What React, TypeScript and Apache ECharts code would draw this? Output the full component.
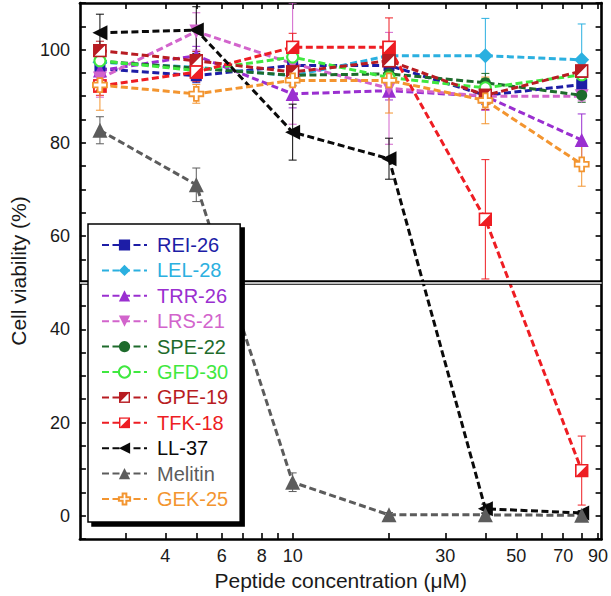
import React, { useEffect, useRef } from 'react';
import * as echarts from 'echarts';

// Peptide concentrations (µM)
const concentrations = [2.5, 5, 10, 20, 40, 80];

// Mean cell viability (%) per peptide
const rei26 = [95.9, 94.4, 96.6, 96.6, 90.2, 92.5];
const lel28 = [97.3, 96.2, 94.4, 98.7, 98.7, 97.8];
const trr26 = [95.5, 98.7, 90.5, 91.2, 90.0, 80.6];
const lrs21 = [93.8, 103.9, 97.0, 91.7, 90.0, 90.0];
const spe22 = [97.5, 96.0, 94.5, 94.8, 92.9, 90.2];
const gfd30 = [97.6, 95.5, 98.4, 94.0, 91.8, 94.6];
const gpe19 = [99.8, 97.6, 95.2, 97.6, 90.2, 95.4];
const tfk18 = [92.2, 95.2, 100.5, 100.5, 63.6, 9.7];
const ll37 = [103.6, 104.2, 82.3, 76.6, 1.5, 0.6];
const melitin = [82.7, 71.0, 7.2, 0.2, 0.2, 0.1];
const gek25 = [92.4, 90.5, 93.4, 93.4, 89.1, 75.4];

// Standard deviations
const rei26Err = [1.5, 1.5, 2, 1.5, 2, 1.5];
const lel28Err = [2, 2, 2, 2, 8, 7.7];
const trr26Err = [3, 2, 3, 2, 3, 5.6];
const lrs21Err = [4, 4, 13, 12, 3, 1];
const spe22Err = [1, 1, 1.5, 1.5, 2, 1.5];
const gfd30Err = [2, 2, 3, 2, 2, 1.5];
const gpe19Err = [2, 2, 3, 3, 3, 1.5];
const tfk18Err = [2, 2, 3, 6.3, 12.8, 7.4];
const ll37Err = [4, 5, 6, 4.4, 1, 0.5];
const melitinErr = [2.9, 3.6, 2, 0.5, 0.5, 0.5];
const gek25Err = [5.4, 2, 4, 7, 5, 4.7];

// Axis ticks
const xTickValues = [3, 4, 5, 6, 7, 8, 9, 10, 20, 30, 40, 50, 60, 70, 80, 90];
const xLabelValues = [4, 6, 8, 10, 30, 50, 70, 90];
const yLabelValues = [0, 20, 40, 60, 80, 100];
const thresholdValue = 50;

const FONT = 'Liberation Sans, Arial, sans-serif';

const halfSquare = (color: string, filledUpperLeft: boolean) => {
  const pts = filledUpperLeft ? '1,1 13,1 1,13' : '13,1 13,13 1,13';
  const svg = `<svg xmlns="http://www.w3.org/2000/svg" width="14" height="14" viewBox="0 0 14 14"><rect x="1" y="1" width="12" height="12" fill="#ffffff" stroke="${color}" stroke-width="1.8"/><polygon points="${pts}" fill="${color}"/></svg>`;
  return 'image://data:image/svg+xml;charset=utf-8,' + encodeURIComponent(svg);
};

const crossPath = 'path://M4,0L8,0L8,4L12,4L12,8L8,8L8,12L4,12L4,8L0,8L0,4L4,4Z';

type Def = {
  name: string;
  values: number[];
  errors: number[];
  color: string;
  symbol: string;
  size: number;
  rotate?: number;
  fill?: string;
};

const defs: Def[] = [
  { name: 'REI-26', values: rei26, errors: rei26Err, color: '#1d1da6', symbol: 'rect', size: 11 },
  { name: 'LEL-28', values: lel28, errors: lel28Err, color: '#2bb0e0', symbol: 'diamond', size: 15 },
  { name: 'TRR-26', values: trr26, errors: trr26Err, color: '#9a2fd0', symbol: 'triangle', size: 14 },
  { name: 'LRS-21', values: lrs21, errors: lrs21Err, color: '#d264cc', symbol: 'triangle', size: 14, rotate: 180 },
  { name: 'SPE-22', values: spe22, errors: spe22Err, color: '#1e6b2c', symbol: 'circle', size: 11 },
  { name: 'GFD-30', values: gfd30, errors: gfd30Err, color: '#3fe83f', symbol: 'emptyCircle', size: 11 },
  { name: 'GPE-19', values: gpe19, errors: gpe19Err, color: '#b81c22', symbol: halfSquare('#b81c22', true), size: 14 },
  { name: 'TFK-18', values: tfk18, errors: tfk18Err, color: '#ee1d23', symbol: halfSquare('#ee1d23', false), size: 14 },
  { name: 'LL-37', values: ll37, errors: ll37Err, color: '#0a0a0a', symbol: 'triangle', size: 15, rotate: 90 },
  { name: 'Melitin', values: melitin, errors: melitinErr, color: '#5c5c5c', symbol: 'triangle', size: 15 },
  { name: 'GEK-25', values: gek25, errors: gek25Err, color: '#f39530', symbol: crossPath, size: 14, fill: '#ffffff' },
];

const X_MIN = 2.165;
const X_MAX = 92.3;

export default function App() {
  const ref = useRef<HTMLDivElement>(null);

  useEffect(() => {
    if (!ref.current) return;
    const chart = echarts.init(ref.current, null, { renderer: 'svg' });

    const axisLine = { show: true, onZero: false, lineStyle: { color: '#000', width: 2.6 } };
    const tickStyle = { color: '#000', width: 1.6 };

    const xBase = {
      type: 'log' as const,
      min: X_MIN,
      max: X_MAX,
      logBase: 10,
      splitLine: { show: false },
      axisLine,
      axisTick: { show: true, inside: true, length: 6, customValues: xTickValues, lineStyle: tickStyle },
      minorTick: { show: false },
    };
    const yBase = {
      type: 'value' as const,
      min: -5,
      max: 110,
      interval: 5,
      splitLine: { show: false },
      axisLine,
      axisTick: { show: true, inside: true, length: 6, lineStyle: tickStyle },
    };

    const errorSeries = defs.map((d) => ({
      type: 'custom',
      name: d.name + ' sd',
      xAxisIndex: 0,
      yAxisIndex: 0,
      z: 1,
      silent: true,
      clip: true,
      encode: { x: 0, y: 1 },
      data: concentrations.map((c, i) => [c, d.values[i], d.errors[i]]),
      renderItem: (_params: any, api: any) => {
        const x = api.value(0);
        const y = api.value(1);
        const e = api.value(2);
        const top = api.coord([x, y + e]);
        const bot = api.coord([x, y - e]);
        const w = 4;
        const style = { stroke: d.color, lineWidth: 1 };
        return {
          type: 'group',
          children: [
            { type: 'line', shape: { x1: top[0], y1: top[1], x2: bot[0], y2: bot[1] }, style },
            { type: 'line', shape: { x1: top[0] - w, y1: top[1], x2: top[0] + w, y2: top[1] }, style },
            { type: 'line', shape: { x1: bot[0] - w, y1: bot[1], x2: bot[0] + w, y2: bot[1] }, style },
          ],
        };
      },
    }));

    const lineSeries = defs.map((d) => ({
      type: 'line',
      name: d.name,
      xAxisIndex: 0,
      yAxisIndex: 0,
      z: 3,
      data: concentrations.map((c, i) => [c, d.values[i]]),
      symbol: d.symbol,
      symbolSize: d.size,
      symbolRotate: d.rotate ?? 0,
      showSymbol: true,
      lineStyle: { color: d.color, width: 3, type: [7, 3.5] },
      itemStyle: {
        color: d.fill ?? d.color,
        borderColor: d.color,
        borderWidth: d.symbol === 'emptyCircle' || d.fill ? 1.8 : 0,
      },
      emphasis: { disabled: true },
    }));

    const thresholdSeries = {
      type: 'line',
      name: 'threshold',
      xAxisIndex: 0,
      yAxisIndex: 0,
      z: 0,
      data: [],
      silent: true,
      markLine: {
        silent: true,
        symbol: ['none', 'none'],
        label: { show: false },
        animation: false,
        data: [
          { yAxis: thresholdValue, lineStyle: { color: '#000', width: 4.5, type: 'solid' } },
          { yAxis: thresholdValue, lineStyle: { color: '#fff', width: 1.6, type: 'solid' } },
        ],
      },
    };

    chart.setOption({
      animation: false,
      backgroundColor: '#ffffff',
      textStyle: { fontFamily: FONT },
      grid: { left: 65, right: 9, top: 3, bottom: 56, containLabel: false },
      xAxis: [
        {
          ...xBase,
          position: 'bottom',
          name: 'Peptide concentration (\u03bcM)',
          nameLocation: 'middle',
          nameGap: 26,
          nameTextStyle: { fontSize: 21, color: '#1a1a1a', fontFamily: FONT },
          axisLabel: {
            show: true,
            customValues: xLabelValues,
            margin: 8,
            fontSize: 18,
            color: '#1a1a1a',
            fontFamily: FONT,
            formatter: (v: number) => String(Math.round(v)),
          },
        },
        {
          ...xBase,
          position: 'top',
          axisLabel: { show: false },
        },
      ],
      yAxis: [
        {
          ...yBase,
          position: 'left',
          name: 'Cell viability (%)',
          nameLocation: 'middle',
          nameGap: 38,
          nameTextStyle: { fontSize: 21, color: '#1a1a1a', fontFamily: FONT },
          axisLabel: {
            show: true,
            margin: 10,
            fontSize: 18,
            color: '#1a1a1a',
            fontFamily: FONT,
            formatter: (v: number) => (yLabelValues.includes(v) ? String(v) : ''),
          },
        },
        {
          ...yBase,
          position: 'right',
          axisLabel: { show: false },
        },
      ],
      legend: {
        orient: 'vertical',
        left: 88,
        top: 224,
        padding: [11, 12, 13, 13],
        itemGap: 5.4,
        itemWidth: 45,
        itemHeight: 14,
        backgroundColor: '#ffffff',
        borderColor: '#000000',
        borderWidth: 1.5,
        shadowColor: '#000000',
        shadowBlur: 0,
        shadowOffsetX: 4,
        shadowOffsetY: 4,
        selectedMode: false,
        textStyle: { fontSize: 20, lineHeight: 20, fontFamily: FONT, padding: [0, 0, 0, 5] },
        data: defs.map((d) => ({ name: d.name, textStyle: { color: d.color } })),
        z: 10,
      },
      series: [thresholdSeries, ...errorSeries, ...lineSeries],
    });

    return () => chart.dispose();
  }, []);

  return (
    <div
      ref={ref}
      style={{ position: 'fixed', left: 0, top: 0, width: 611, height: 596, background: '#fff' }}
    />
  );
}
